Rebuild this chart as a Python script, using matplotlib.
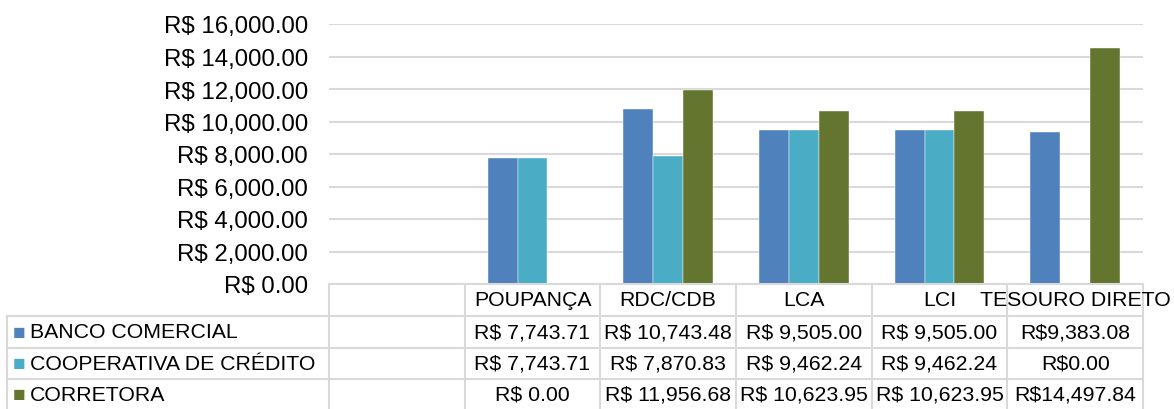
import numpy as np
import matplotlib.pyplot as plt
from matplotlib.transforms import blended_transform_factory

plt.rcParams['font.family'] = ['Liberation Sans', 'DejaVu Sans']

# data
categorias = ['', 'POUPANÇA', 'RDC/CDB', 'LCA', 'LCI', 'TESOURO DIRETO']
series = ['BANCO COMERCIAL', 'COOPERATIVA DE CRÉDITO', 'CORRETORA']
banco = [np.nan, 7743.71, 10743.48, 9505.00, 9505.00, 9383.08]
cooperativa = [np.nan, 7743.71, 7870.83, 9462.24, 9462.24, 0.00]
corretora = [np.nan, 0.00, 11956.68, 10623.95, 10623.95, 14497.84]
tabela = [
    ['', 'R$ 7,743.71', 'R$ 10,743.48', 'R$ 9,505.00', 'R$ 9,505.00', 'R$9,383.08'],
    ['', 'R$ 7,743.71', 'R$ 7,870.83', 'R$ 9,462.24', 'R$ 9,462.24', 'R$0.00'],
    ['', 'R$ 0.00', 'R$ 11,956.68', 'R$ 10,623.95', 'R$ 10,623.95', 'R$14,497.84'],
]
cores = ['#4F81BD', '#4BACC6', '#63752F']

W, H = 1174, 410
fig = plt.figure(figsize=(W / 100, H / 100), dpi=100)
ax = fig.add_axes([329 / W, (H - 285) / H, (1143 - 329) / W, (285 - 25) / H])

x = np.arange(len(categorias))
largura = 0.221
for i, (vals, cor) in enumerate(zip([banco, cooperativa, corretora], cores)):
    ax.bar(x + (i - 1) * largura, vals, largura, color=cor, edgecolor='white', linewidth=0.3, zorder=3)

ax.set_xlim(-0.5, len(categorias) - 0.5)
ax.set_ylim(0, 16000)
ax.set_yticks(np.arange(0, 16001, 2000))
ax.set_yticklabels(['R$ {:,.2f}'.format(v) for v in np.arange(0, 16001, 2000)], fontsize=17.3)
ax.tick_params(axis='y', length=0, pad=15)
ax.set_xticks([])
ax.grid(axis='y', color='#D9D9D9', linewidth=1.5, zorder=0)
for s in ax.spines.values():
    s.set_visible(False)

# tabela de dados
tr = blended_transform_factory(ax.transData, fig.transFigure)
fy = lambda py: 1 - py / H
fx = lambda px: px / W
linhas = [285, 317, 349, 380, 411]
cinza = '#D9D9D9'
fs = 15.3
fig.add_artist(plt.Line2D([fx(329), fx(1143)], [fy(285)] * 2, color=cinza, lw=1.5))
for py in linhas[1:4]:
    fig.add_artist(plt.Line2D([fx(7), fx(1143)], [fy(py)] * 2, color=cinza, lw=1.5))
fig.add_artist(plt.Line2D([fx(7), fx(7)], [fy(317), 0], color=cinza, lw=1.5))
for xb in np.arange(-0.5, len(categorias), 1.0):
    ax.plot([xb, xb], [fy(285), 0], transform=tr, color=cinza, lw=1.5, clip_on=False)

for j, cat in enumerate(categorias):
    fig.text(x[j], fy(301), cat, transform=tr, fontsize=fs, ha='center', va='center')

for r, (linha, nome, cor) in enumerate(zip(tabela, series, cores)):
    yc = fy((linhas[r + 1] + linhas[r + 2]) / 2)
    fig.text(fx(13), yc, '■', color=cor, fontsize=15, va='center', ha='left')
    fig.text(fx(30), yc, nome, fontsize=fs, va='center', ha='left')
    for j, val in enumerate(linha):
        fig.text(x[j], yc, val, transform=tr, fontsize=fs, va='center', ha='center')

fig.savefig('out.png', dpi=100)
